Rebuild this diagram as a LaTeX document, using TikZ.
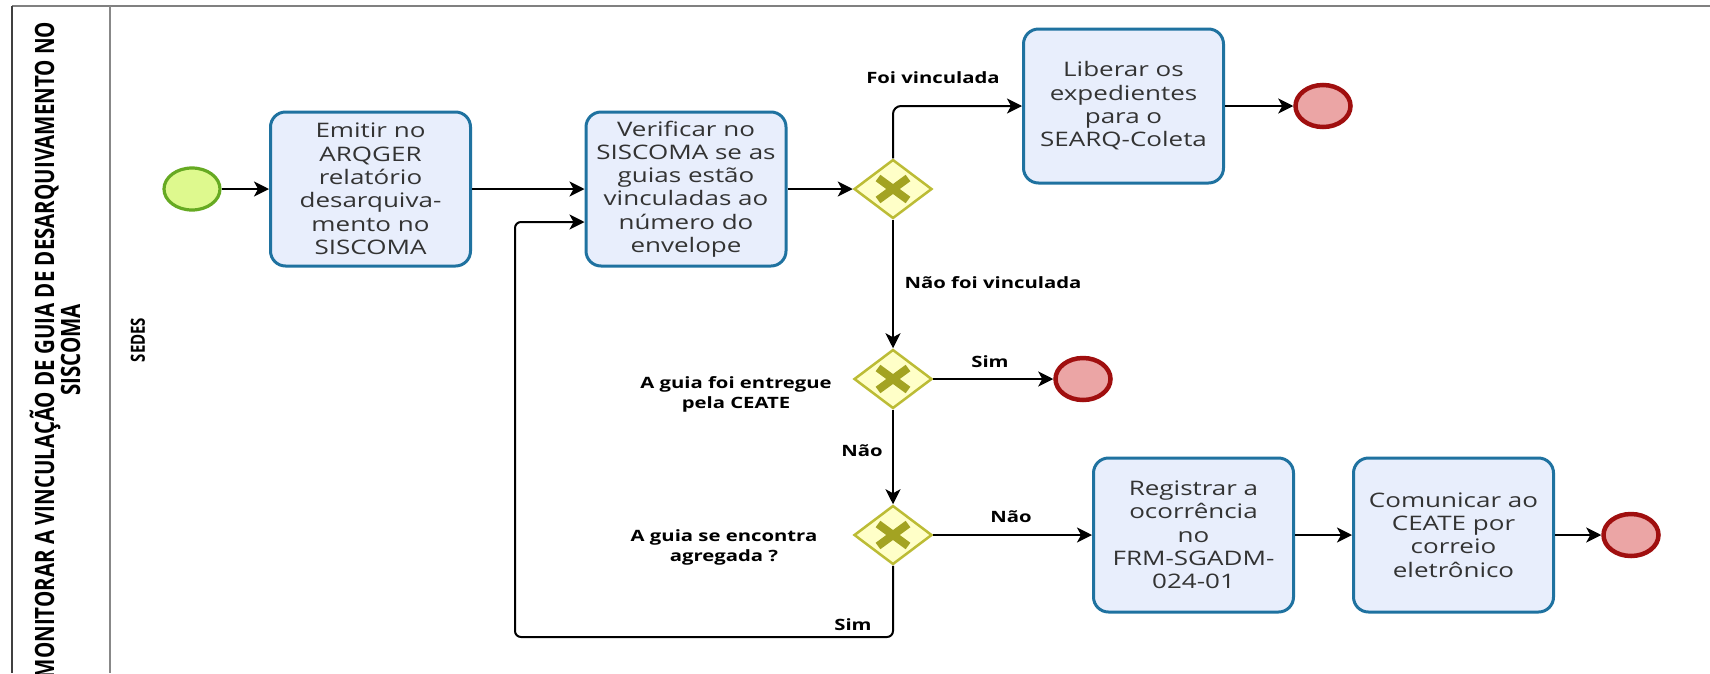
\documentclass[tikz,border=0pt]{standalone}
\usepackage{fontspec}
\setmainfont{Open Sans}[FakeStretch=1.3]
\newfontfamily\titlefont{Open Sans}[FakeStretch=0.77]
\usetikzlibrary{shapes.geometric,arrows.meta}
\definecolor{taskfill}{HTML}{E8EEFC}
\definecolor{taskline}{HTML}{1F72A0}
\definecolor{tasktext}{HTML}{333333}
\definecolor{gwfill}{HTML}{FFFFC8}
\definecolor{gwline}{HTML}{BCBC35}
\definecolor{gwx}{HTML}{A3A322}
\definecolor{startfill}{HTML}{DEF98E}
\definecolor{startline}{HTML}{66AA22}
\definecolor{endfill}{HTML}{EBA5A5}
\definecolor{endline}{HTML}{A00F0F}
\definecolor{frametop}{HTML}{808080}
\definecolor{frameleft}{HTML}{404040}
\definecolor{framediv}{HTML}{888888}
\begin{document}
\begin{tikzpicture}[x=1pt,y=-1pt,
  task/.style={draw=taskline, fill=taskfill, line width=3pt, rounded corners=15pt,
    minimum width=200pt, minimum height=154pt, align=center, inner sep=0pt,
    text=tasktext, font=\fontsize{20}{23.3}\selectfont},
  startev/.style={ellipse, draw=startline, fill=startfill, line width=3.2pt,
    minimum width=56pt, minimum height=42pt, inner sep=0pt},
  endev/.style={ellipse, draw=endline, fill=endfill, line width=4.5pt,
    minimum width=55pt, minimum height=42pt, inner sep=0pt},
  gateway/.style={diamond, draw=gwline, fill=gwfill, line width=2.5pt,
    minimum width=78pt, minimum height=59pt, inner sep=0pt, aspect=1.3},
  xmark/.style={draw=gwx, line width=8pt},
  flow/.style={draw=black, line width=2pt, -{Stealth[length=15pt,width=15pt,inset=4pt]}},
  lbl/.style={font=\bfseries\fontsize{15.6}{20}\selectfont, text=black, align=center, inner sep=0pt},
  pooltitle/.style={rotate=90, align=center, inner sep=0pt,
    font=\titlefont\bfseries\fontsize{26.6}{26}\selectfont, text=black},
  lanetitle/.style={rotate=90, inner sep=0pt,
    font=\titlefont\bfseries\fontsize{19.5}{20}\selectfont, text=black}
]
\useasboundingbox (0,0) rectangle (1710,673);
\fill[white] (0,0) rectangle (1710,673);
% frame
\draw[line width=2pt, draw=frametop] (12,6) -- (1710,6);
\draw[line width=2.5pt, draw=frameleft] (12,6) -- (12,673);
\draw[line width=2pt, draw=framediv] (110,6) -- (110,673);
\node[pooltitle] (pool) at (55,350) {MONITORAR A VINCULAÇÃO DE GUIA DE DESARQUIVAMENTO NO\\SISCOMA};
\node[lanetitle] (lane) at (138,340) {SEDES};

% nodes
\node[startev] (start) at (192,189) {};
\node[task] (task1) at (370.5,189) {Emitir no\\ARQGER\\relatório\\desarquiva-\\mento no\\SISCOMA};
\node[task] (task2) at (686,189) {Verificar no\\SISCOMA se as\\guias estão\\vinculadas ao\\número do\\envelope};
\node[gateway] (gw1) at (893,189) {};
\node[task] (task3) at (1123.5,106) {Liberar os\\expedientes\\para o\\SEARQ-Coleta};
\node[endev] (end1) at (1323,106) {};
\node[gateway] (gw2) at (893,379) {};
\node[endev] (end2) at (1083,379) {};
\node[gateway] (gw3) at (893,535) {};
\node[task] (task4) at (1193.5,535) {Registrar a\\ocorrência\\no\\FRM-SGADM-\\024-01};
\node[task] (task5) at (1453.5,535) {Comunicar ao\\CEATE por\\correio\\eletrônico};
\node[endev] (end3) at (1631,535) {};

\foreach \g in {gw1,gw2,gw3}{
  \draw[xmark] ([shift={(-15,-11)}]\g.center) -- ([shift={(15,11)}]\g.center);
  \draw[xmark] ([shift={(-15,11)}]\g.center) -- ([shift={(15,-11)}]\g.center);
}

% connectors
\draw[flow] (start) -- (task1);
\draw[flow] (task1) -- (task2);
\draw[flow] (task2) -- (gw1);
\draw[flow, rounded corners=8pt] (gw1.north) |- (task3.west);
\draw[flow] (task3) -- (end1);
\draw[flow] (gw1.south) -- (gw2.north);
\draw[flow] (gw2.east) -- (end2);
\draw[flow] (gw2.south) -- (gw3.north);
\draw[flow] (gw3.east) -- (task4.west);
\draw[flow] (task4) -- (task5);
\draw[flow] (task5) -- (end3);
\coordinate (loopbl) at (515,637);
\draw[flow, rounded corners=6pt] (gw3.south) |- (loopbl) |- ([yshift=-33pt]task2.west);

% labels
\node[lbl] (l1) at (933,78) {Foi vinculada};
\node[lbl] (l2) at (993,283) {Não foi vinculada};
\node[lbl] (l3) at (990,362) {Sim};
\node[lbl] (l4) at (736,394) {A guia foi entregue\\pela CEATE};
\node[lbl] (l5) at (862,451) {Não};
\node[lbl] (l6) at (724,547) {A guia se encontra\\agregada ?};
\node[lbl] (l7) at (1011,517) {Não};
\node[lbl] (l8) at (853,625) {Sim};
\end{tikzpicture}
\end{document}
